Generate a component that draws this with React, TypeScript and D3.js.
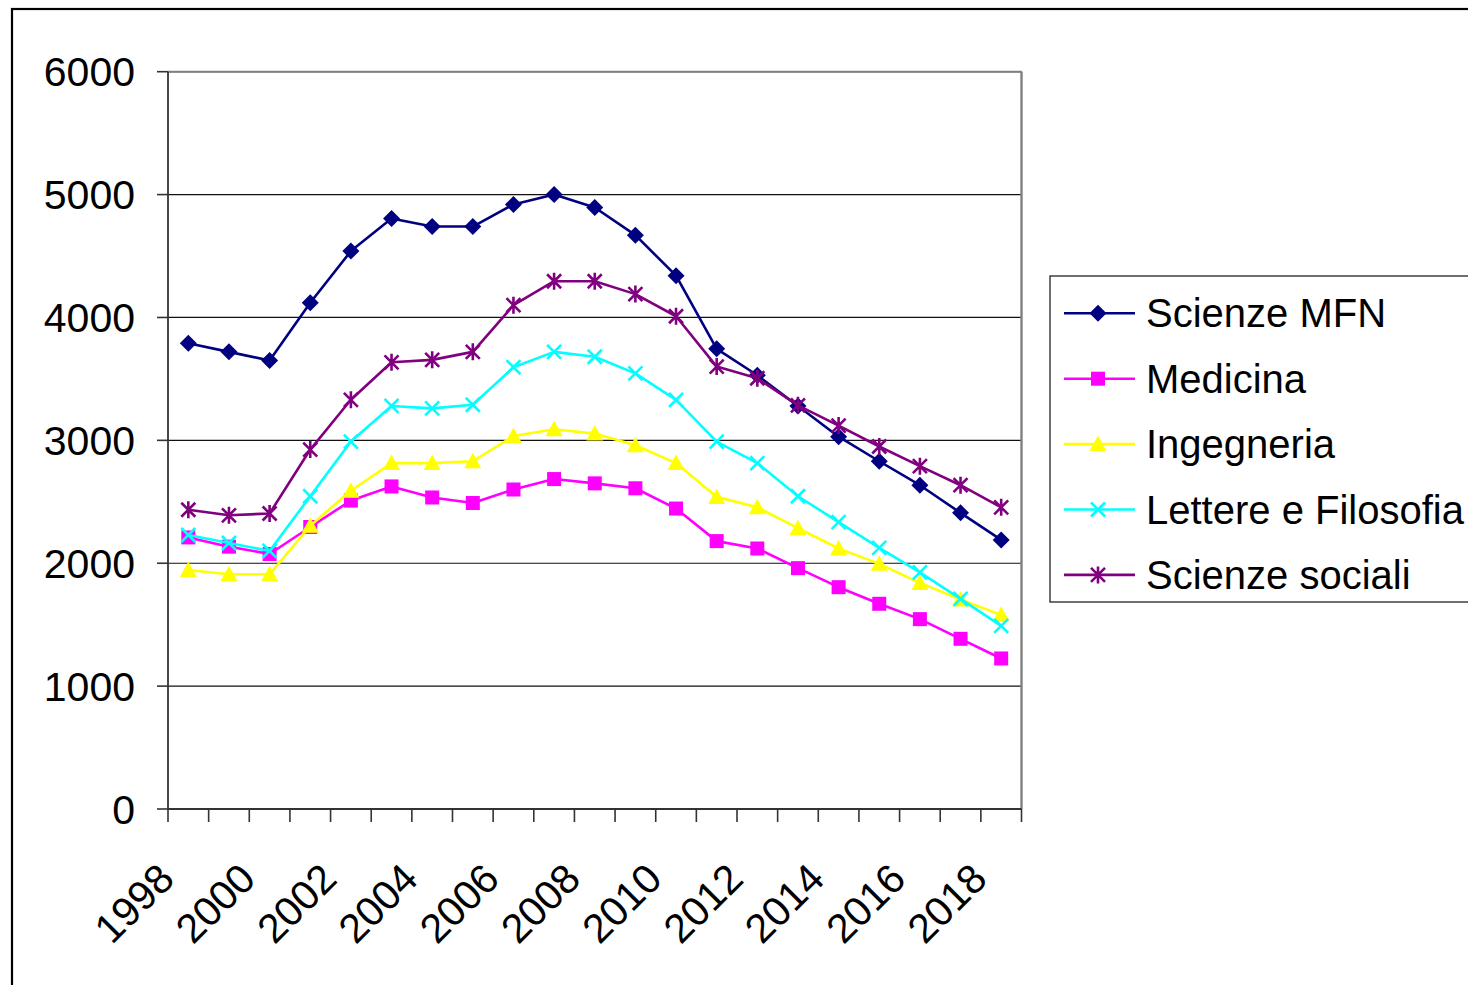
import React from "react";
import * as d3 from "d3";

const years: string[] = [
  "1998", "1999", "2000", "2001", "2002", "2003", "2004", "2005", "2006", "2007",
  "2008", "2009", "2010", "2011", "2012", "2013", "2014", "2015", "2016", "2017", "2018",
];
const labeledYears: string[] = ["1998", "2000", "2002", "2004", "2006", "2008", "2010", "2012", "2014", "2016", "2018"];
const yTicks: number[] = [0, 1000, 2000, 3000, 4000, 5000, 6000];

const scienzeMFN: number[] = [3790, 3720, 3650, 4120, 4540, 4805, 4740, 4740, 4920, 5000, 4895, 4670, 4340, 3745, 3530, 3280, 3030, 2830, 2635, 2410, 2190];
const medicina: number[] = [2210, 2135, 2075, 2295, 2510, 2625, 2535, 2490, 2600, 2685, 2650, 2610, 2445, 2180, 2120, 1960, 1805, 1670, 1545, 1385, 1225];
const ingegneria: number[] = [1945, 1910, 1910, 2305, 2590, 2815, 2815, 2830, 3035, 3090, 3055, 2960, 2815, 2540, 2455, 2285, 2120, 1995, 1840, 1705, 1580];
const lettere: number[] = [2230, 2165, 2100, 2545, 2990, 3280, 3260, 3290, 3595, 3720, 3680, 3545, 3330, 2990, 2815, 2545, 2335, 2125, 1925, 1710, 1490];
const sociali: number[] = [2435, 2390, 2405, 2925, 3330, 3635, 3655, 3720, 4100, 4295, 4295, 4190, 4010, 3600, 3505, 3285, 3120, 2950, 2790, 2635, 2455];

const seriesNames: string[] = ["Scienze MFN", "Medicina", "Ingegneria", "Lettere e Filosofia", "Scienze sociali"];
const seriesColors: string[] = ["#000080", "#FF00FF", "#FFFF00", "#00FFFF", "#800080"];
const seriesMarkers: string[] = ["diamond", "square", "triangle", "x", "star"];
const seriesValues: number[][] = [scienzeMFN, medicina, ingegneria, lettere, sociali];

const FONT = "Arial, 'Liberation Sans', Helvetica, sans-serif";

function Marker({ type, x, y, color }: { type: string; x: number; y: number; color: string }) {
  if (type === "diamond") {
    const r = 8.5;
    return <path d={`M${x},${y - r}L${x + r},${y}L${x},${y + r}L${x - r},${y}Z`} fill={color} />;
  }
  if (type === "square") {
    const s = 7;
    return <rect x={x - s} y={y - s} width={2 * s} height={2 * s} fill={color} />;
  }
  if (type === "triangle") {
    return <path d={`M${x},${y - 8.5}L${x + 8.5},${y + 7}L${x - 8.5},${y + 7}Z`} fill={color} />;
  }
  if (type === "x") {
    const r = 7;
    return (
      <path d={`M${x - r},${y - r}L${x + r},${y + r}M${x - r},${y + r}L${x + r},${y - r}`} stroke={color} strokeWidth={2.6} fill="none" />
    );
  }
  const r = 7;
  return (
    <path
      d={`M${x - r},${y - r}L${x + r},${y + r}M${x - r},${y + r}L${x + r},${y - r}M${x},${y - r - 1.5}L${x},${y + r + 1.5}`}
      stroke={color}
      strokeWidth={2.6}
      fill="none"
    />
  );
}

export default function App() {
  const W = 1468;
  const H = 985;
  const left = 168;
  const right = 1021.5;
  const top = 71.7;
  const bottom = 809;

  const x = d3.scaleBand<string>().domain(years).range([left, right]).padding(0);
  const y = d3.scaleLinear().domain([0, 6000]).range([bottom, top]);
  const cx = (yr: string) => (x(yr) as number) + x.bandwidth() / 2;

  const line = d3
    .line<number>()
    .x((_, i) => cx(years[i]))
    .y((v) => y(v));

  const legendX = 1050;
  const legendY = 276;
  const rowY = (i: number) => 313.3 + i * 65.4;

  return (
    <svg
      width={W}
      height={H}
      style={{ position: "fixed", left: 0, top: 0, background: "#fff" }}
      fontFamily={FONT}
    >
      <rect x={0} y={0} width={W} height={H} fill="#fff" />
      {/* outer chart frame */}
      <rect x={12} y={9} width={W + 20} height={H + 20} fill="none" stroke="#000" strokeWidth={2.2} />

      {/* gridlines */}
      {yTicks.map((t) => (
        <line key={"g" + t} x1={left} x2={right} y1={y(t)} y2={y(t)} stroke="#111" strokeWidth={1.2} />
      ))}
      {/* plot area border */}
      <line x1={left} x2={right} y1={top} y2={top} stroke="#808080" strokeWidth={2} />
      <line x1={right} x2={right} y1={top} y2={bottom} stroke="#808080" strokeWidth={2.4} />

      {/* axes */}
      <line x1={left} x2={left} y1={top} y2={bottom} stroke="#333" strokeWidth={1.8} />
      <line x1={left} x2={right} y1={bottom} y2={bottom} stroke="#333" strokeWidth={1.8} />
      {yTicks.map((t) => (
        <line key={"yt" + t} x1={157} x2={left} y1={y(t)} y2={y(t)} stroke="#333" strokeWidth={1.6} />
      ))}
      {d3.range(years.length + 1).map((i) => {
        const xx = left + i * x.bandwidth();
        return <line key={"xt" + i} x1={xx} x2={xx} y1={bottom} y2={bottom + 13} stroke="#333" strokeWidth={1.6} />;
      })}

      {/* y labels */}
      {yTicks.map((t) => (
        <text key={"yl" + t} x={135} y={y(t)} dy="0.36em" textAnchor="end" fontSize={41} fill="#000">
          {t}
        </text>
      ))}
      {/* x labels */}
      {labeledYears.map((yr) => {
        const ax = cx(yr) - 12;
        const ay = 881;
        return (
          <text key={"xl" + yr} x={ax} y={ay} textAnchor="end" fontSize={41} fill="#000" transform={`rotate(-45 ${ax} ${ay})`}>
            {yr}
          </text>
        );
      })}

      {/* series */}
      {seriesValues.map((vals, si) => (
        <g key={"s" + si}>
          <path d={line(vals) as string} fill="none" stroke={seriesColors[si]} strokeWidth={2.6} strokeLinejoin="round" />
          {vals.map((v, i) => (
            <Marker key={i} type={seriesMarkers[si]} x={cx(years[i])} y={y(v)} color={seriesColors[si]} />
          ))}
        </g>
      ))}

      {/* legend */}
      <rect x={legendX} y={legendY} width={W - legendX + 10} height={602 - legendY} fill="#fff" stroke="#222" strokeWidth={1.3} />
      {seriesNames.map((name, i) => (
        <g key={"l" + i}>
          <line x1={1064} x2={1135} y1={rowY(i)} y2={rowY(i)} stroke={seriesColors[i]} strokeWidth={2.6} />
          <Marker type={seriesMarkers[i]} x={1098} y={rowY(i)} color={seriesColors[i]} />
          <text x={1146} y={rowY(i) + 14} fontSize={40} fill="#000">
            {name}
          </text>
        </g>
      ))}
    </svg>
  );
}
